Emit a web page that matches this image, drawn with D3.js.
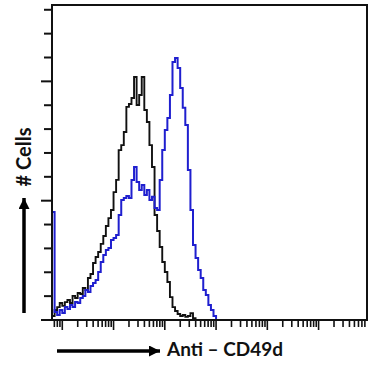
<!DOCTYPE html>
<html>
<head>
<meta charset="utf-8">
<script src="https://cdn.jsdelivr.net/npm/d3@7"></script>
<style>
  body { margin: 0; background: #fff; }
  svg { display: block; }
</style>
</head>
<body>
<div id="chart"></div>
<script>
// histogram bins: log10 start and width of each channel bin
var binLogStart = -0.2;
var binLogWidth = 0.05;

// isotype control (black)
var controlCounts = [1.7, 4.2, 5.4, 7.1, 5.9, 7.5, 8.4, 7.1, 10.1, 9.2,
    11.3, 10.9, 13.4, 12.6, 17.6, 19.3, 23.9, 26.4, 28.5, 31.9,
    35.2, 39.4, 42.7, 46.1, 53.6, 58.7, 71.2, 73.3, 78.8, 89.3,
    90.5, 93.0, 101.8, 90.1, 94.3, 101.8, 88.0, 83.0, 73.3, 64.1,
    44.0, 37.3, 30.6, 24.3, 20.1, 15.9, 9.6, 5.4, 3.8, 2.5,
    1.7, 2.1, 1.3, 1.7, 2.9, 0.8, 0];

// anti-CD49d (blue)
var cd49dCounts = [45.3, 3.4, 2.1, 4.2, 2.9, 5.4, 4.6, 6.3, 5.4, 7.5,
    7.1, 9.2, 10.1, 12.6, 11.7, 14.2, 15.5, 16.8, 20.1, 24.3,
    27.2, 29.3, 30.2, 33.5, 34.4, 35.6, 44.0, 50.3, 51.1, 52.0,
    51.1, 58.7, 64.1, 57.8, 54.5, 56.6, 52.4, 54.5, 50.3, 51.6,
    46.9, 46.1, 58.7, 71.2, 79.6, 84.7, 94.3, 108.1, 109.8, 105.6,
    97.2, 88.9, 81.7, 62.9, 46.1, 31.4, 26.0, 21.0, 17.6, 12.6,
    10.5, 6.3, 4.2, 1.7, 0.4];

var yTicks = d3.range(0, 131, 10);
var yMajor = [0, 50, 100];
var xDecades = [1, 10, 100, 1000, 10000, 100000];
var xLabel = "Anti \u2013 CD49d";
var yLabel = "# Cells";

var width = 370, height = 377;
var plotLeft = 52, plotRight = 367, plotTop = 5, plotBottom = 320;

var svg = d3.select("#chart").append("svg")
    .attr("width", width)
    .attr("height", height);

var x = d3.scaleLog().domain([0.63, 8.8e5]).range([plotLeft, plotRight]);
var y = d3.scaleLinear().domain([0, 132]).range([plotBottom, plotTop]);

function binValue(i) { return Math.pow(10, binLogStart + i * binLogWidth); }

// x ticks: every minor log step inside the domain
var xTicks = [];
[0.1, 1, 10, 100, 1000, 10000, 100000].forEach(function (d) {
    for (var m = 1; m < 10; m++) {
        var v = d * m;
        if (v >= 0.65 && v <= 8.8e5) xTicks.push(v);
    }
});

function isMajorX(v) {
    return xDecades.some(function (d) { return Math.abs(v - d) / d < 1e-6; });
}

var line = d3.line()
    .x(function (d, i) { return x(binValue(i)); })
    .y(function (d) { return y(d); })
    .curve(d3.curveStepAfter);

svg.append("path")
    .datum(controlCounts)
    .attr("d", line)
    .attr("fill", "none")
    .attr("stroke", "#111")
    .attr("stroke-width", 1.9);

svg.append("path")
    .datum(cd49dCounts)
    .attr("d", line)
    .attr("fill", "none")
    .attr("stroke", "#1f1fcf")
    .attr("stroke-width", 2);

// y ticks
svg.selectAll(".ytick")
    .data(yTicks)
    .enter().append("line")
    .attr("class", "ytick")
    .attr("x1", function (d) { return yMajor.indexOf(d) >= 0 ? plotLeft - 11 : plotLeft - 8; })
    .attr("x2", plotLeft)
    .attr("y1", function (d) { return y(d); })
    .attr("y2", function (d) { return y(d); })
    .attr("stroke", "#111")
    .attr("stroke-width", 2);

// x ticks
svg.selectAll(".xtick")
    .data(xTicks)
    .enter().append("line")
    .attr("class", "xtick")
    .attr("x1", function (d) { return x(d); })
    .attr("x2", function (d) { return x(d); })
    .attr("y1", plotBottom)
    .attr("y2", function (d) { return isMajorX(d) ? plotBottom + 10 : plotBottom + 7; })
    .attr("stroke", "#111")
    .attr("stroke-width", 1.6);

// frame
svg.append("rect")
    .attr("x", plotLeft)
    .attr("y", plotTop)
    .attr("width", plotRight - plotLeft)
    .attr("height", plotBottom - plotTop)
    .attr("fill", "none")
    .attr("stroke", "#111")
    .attr("stroke-width", 2);

// axis arrows
svg.append("defs").append("marker")
    .attr("id", "head")
    .attr("viewBox", "0 0 10 10")
    .attr("refX", 10).attr("refY", 5)
    .attr("markerUnits", "userSpaceOnUse")
    .attr("markerWidth", 11).attr("markerHeight", 11)
    .attr("orient", "auto")
    .append("path")
    .attr("d", "M0,0L10,5L0,10Z")
    .attr("fill", "#000");

svg.append("line")
    .attr("x1", 57).attr("x2", 160)
    .attr("y1", 351).attr("y2", 351)
    .attr("stroke", "#000").attr("stroke-width", 3.5)
    .attr("marker-end", "url(#head)");

svg.append("line")
    .attr("x1", 24).attr("x2", 24)
    .attr("y1", 313).attr("y2", 198)
    .attr("stroke", "#000").attr("stroke-width", 3.5)
    .attr("marker-end", "url(#head)");

svg.append("text")
    .attr("x", 167)
    .attr("y", 356)
    .attr("font-family", "Lato, sans-serif")
    .attr("font-weight", "bold")
    .attr("font-size", 19)
    .attr("fill", "#111")
    .text(xLabel);

svg.append("text")
    .attr("transform", "translate(31,157) rotate(-90)")
    .attr("text-anchor", "middle")
    .attr("font-family", "Lato, sans-serif")
    .attr("font-weight", "bold")
    .attr("font-size", 20)
    .attr("fill", "#111")
    .text(yLabel);
</script>
</body>
</html>
